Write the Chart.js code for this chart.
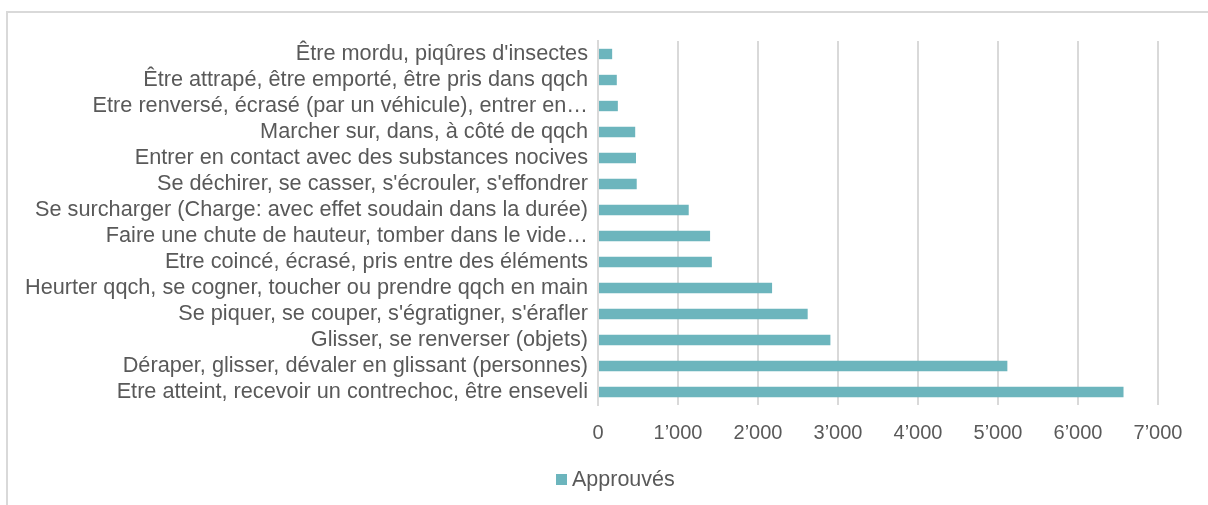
<!DOCTYPE html>
<html>
<head>
<meta charset="utf-8">
<script src="https://cdn.jsdelivr.net/npm/chart.js@4"></script>
<style>
html,body{margin:0;padding:0;background:#fff;overflow:hidden;}
#wrap{position:absolute;left:0;top:0;width:1208px;height:505px;}
#frame{position:absolute;left:6px;top:11px;width:1230px;height:530px;border:2px solid #d9d9d9;box-sizing:border-box;}
canvas{position:absolute;left:0;top:0;}
#legend{position:absolute;left:0;top:0;width:1208px;height:505px;pointer-events:none;}
#sw{position:absolute;left:556px;top:474px;width:11px;height:11px;background:#6cb5bd;}
#lt{position:absolute;left:572px;top:467px;font-family:'Liberation Sans',Arial,sans-serif;font-size:21.5px;line-height:24px;color:#595959;white-space:nowrap;}
</style>
</head>
<body>
<div id="wrap">
<div id="frame"></div>
<canvas id="c" width="1208" height="505"></canvas>
<div id="legend"><div id="sw"></div><div id="lt"></div></div>
</div>
<script>
const categories = [
  "Être mordu, piqûres d'insectes",
  "Être attrapé, être emporté, être pris dans qqch",
  "Etre renversé, écrasé (par un véhicule), entrer en…",
  "Marcher sur, dans, à côté de qqch",
  "Entrer en contact avec des substances nocives",
  "Se déchirer, se casser, s'écrouler, s'effondrer",
  "Se surcharger (Charge: avec effet soudain dans la durée)",
  "Faire une chute de hauteur, tomber dans le vide…",
  "Etre coincé, écrasé, pris entre des éléments",
  "Heurter qqch, se cogner, toucher ou prendre qqch en main",
  "Se piquer, se couper, s'égratigner, s'érafler",
  "Glisser, se renverser (objets)",
  "Déraper, glisser, dévaler en glissant (personnes)",
  "Etre atteint, recevoir un contrechoc, être enseveli"
];
const approuves = [177, 235, 248, 465, 475, 484, 1134, 1401, 1423, 2176, 2621, 2905, 5117, 6569];
const seriesName = "Approuvés";
const xTicks = [0, 1000, 2000, 3000, 4000, 5000, 6000, 7000];

const fmt = v => {
  const s = String(Math.round(v));
  return s.replace(/\B(?=(\d{3})+(?!\d))/g, "\u2019");
};
const FONT = "'Liberation Sans', Arial, sans-serif";
const TXT = "#595959";
const GRID = "#d9d9d9";
const BAR = "#6cb5bd";

document.getElementById('lt').textContent = seriesName;
document.getElementById('sw').style.background = BAR;

new Chart(document.getElementById('c'), {
  type: 'bar',
  data: {
    labels: categories,
    datasets: [{
      label: seriesName,
      data: approuves,
      backgroundColor: BAR,
      borderWidth: 0,
      barPercentage: 0.4,
      categoryPercentage: 1.0
    }]
  },
  options: {
    indexAxis: 'y',
    responsive: false,
    animation: false,
    events: [],
    layout: { padding: { top: 41, right: 50, left: 0, bottom: 40 } },
    plugins: {
      tooltip: { enabled: false },
      legend: { display: false }
    },
    scales: {
      x: {
        min: 0,
        max: 7000,
        afterBuildTicks: s => { s.ticks = xTicks.map(v => ({ value: v })); },
        afterFit: s => { s.paddingLeft = 0; s.paddingRight = 0; s.height = 60; },
        grid: { color: GRID, lineWidth: 2, drawTicks: false, tickLength: 0 },
        border: { display: false },
        ticks: {
          font: { family: FONT, size: 20 },
          color: TXT,
          padding: 16,
          maxRotation: 0,
          callback: v => fmt(v)
        }
      },
      y: {
        afterFit: s => { s.width = 598; },
        grid: { display: false, drawTicks: false, tickLength: 0 },
        border: { display: true, color: GRID, width: 2 },
        ticks: {
          font: { family: FONT, size: 21.7 },
          color: TXT,
          padding: 10,
          autoSkip: false
        }
      }
    }
  }
});
</script>
</body>
</html>
